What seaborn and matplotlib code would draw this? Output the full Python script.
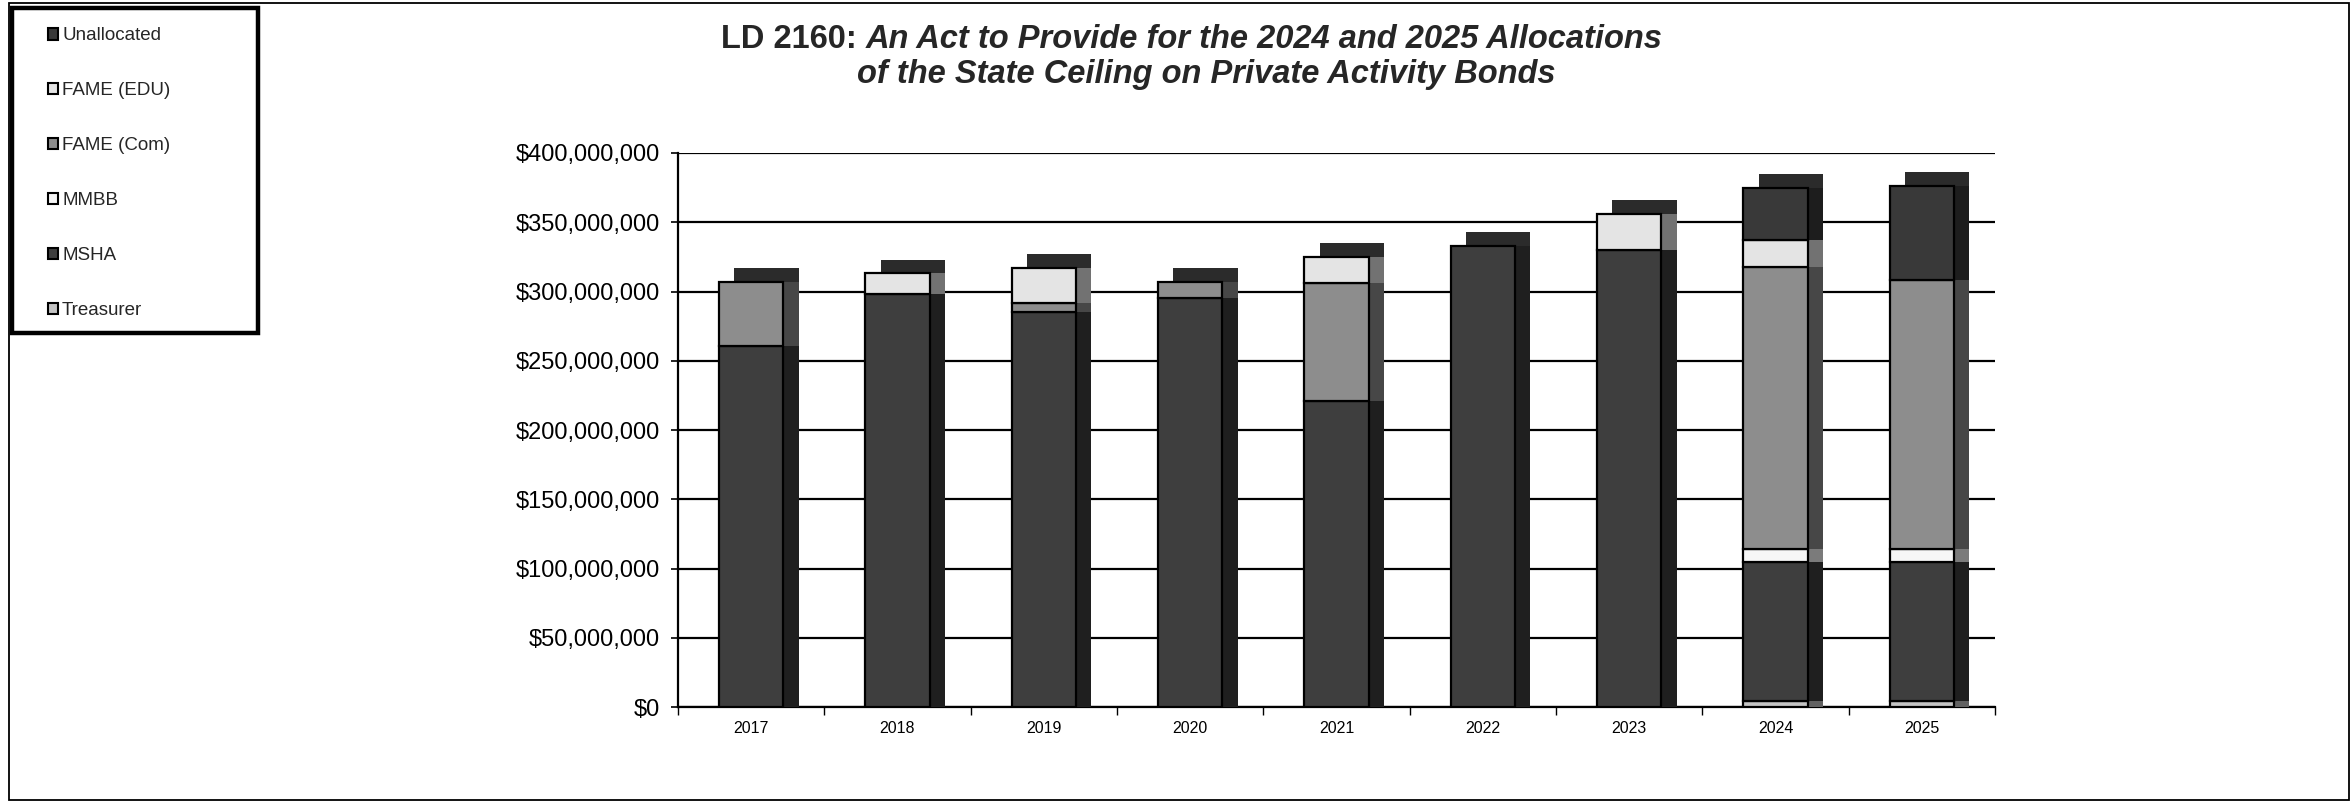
import matplotlib
matplotlib.use("Agg")
import matplotlib.pyplot as plt
import matplotlib.patheffects as pe
from matplotlib.patches import Patch, Rectangle
from matplotlib.ticker import FuncFormatter, MultipleLocator, FixedLocator
import seaborn as sns
import pandas as pd
import numpy as np

# ---- data (millions of dollars) ----
years = ["2017", "2018", "2019", "2020", "2021", "2022", "2023", "2024", "2025"]
treasurer = [0, 0, 0, 0, 0, 0, 0, 4, 4]
msha = [261, 298, 285, 295, 221, 333, 330, 101, 101]
mmbb = [0, 0, 0, 0, 0, 0, 0, 9, 9]
fame_com = [46, 0, 7, 12, 85, 0, 0, 204, 194]
fame_edu = [0, 15, 25, 0, 19, 0, 26, 19, 0]
unallocated = [0, 0, 0, 0, 0, 0, 0, 38, 68]

series_names = ["Treasurer", "MSHA", "MMBB", "FAME (Com)", "FAME (EDU)", "Unallocated"]
series_values = [treasurer, msha, mmbb, fame_com, fame_edu, unallocated]
series_colors = ["#c4c4c4", "#3e3e3e", "#f6f6f6", "#8d8d8d", "#e4e4e4", "#393939"]
legend_order = ["Unallocated", "FAME (EDU)", "FAME (Com)", "MMBB", "MSHA", "Treasurer"]

title_1a = "LD 2160:"
title_1b = "An Act to Provide for the 2024 and 2025 Allocations"
title_2 = "of the State Ceiling on Private Activity Bonds"

sns.set_theme(style="white")
plt.rcParams['font.family'] = ['Liberation Sans', 'DejaVu Sans']

W, H = 2352, 806
fig = plt.figure(figsize=(W / 100, H / 100), dpi=100)
ax = fig.add_axes([678 / W, (H - 707) / H, (1995 - 678) / W, (707 - 153) / H])

bottom = np.zeros(len(years))
for name, vals, col in zip(series_names, series_values, series_colors):
    v = np.array(vals, dtype=float) * 1e6
    df = pd.DataFrame({"year": years, "value": v})
    sns.barplot(data=df, x="year", y="value", order=years, color=col,
                saturation=1, errorbar=None, width=0.44, bottom=bottom,
                edgecolor="black", linewidth=1.6, ax=ax, zorder=3)
    bottom = bottom + v

# pseudo-3D: side faces (darker shade of each segment) and a dark top face
side = pe.SimplePatchShadow(offset=(11, 0), shadow_rgbFace=None, alpha=1.0, rho=0.5)
top = pe.SimplePatchShadow(offset=(11, 10), shadow_rgbFace="#2b2b2b", alpha=1.0)
visible = [p for p in ax.patches if p.get_height() > 0]
for p in ax.patches:
    if p.get_height() <= 0:
        p.set_visible(False)
tops = {}
for p in visible:
    key = round(p.get_x(), 3)
    if key not in tops or p.get_y() + p.get_height() > tops[key].get_y() + tops[key].get_height():
        tops[key] = p
top_set = set(id(p) for p in tops.values())
for p in visible:
    if id(p) in top_set:
        p.set_path_effects([top, side, pe.Normal()])
    else:
        p.set_path_effects([side, pe.Normal()])

ax.set_xlim(-0.5, len(years) - 0.5)
ax.set_ylim(0, 400e6)
ax.yaxis.set_major_locator(MultipleLocator(50e6))
ax.yaxis.set_major_formatter(FuncFormatter(lambda v, _: f"${v:,.0f}"))
ax.set_xlabel("")
ax.set_ylabel("")
ax.yaxis.grid(True, color="black", linewidth=1.6)
ax.xaxis.grid(False)
ax.set_axisbelow(True)
for s in ["top", "right"]:
    ax.spines[s].set_visible(False)
for s in ["left", "bottom"]:
    ax.spines[s].set_color("black")
    ax.spines[s].set_linewidth(1.6)

ax.tick_params(axis="y", which="major", left=True, length=5, width=1.2, color="black",
               pad=8, labelsize=17, labelcolor="black")
ax.tick_params(axis="x", which="major", bottom=False, pad=4, labelsize=11.5, labelcolor="black")
ax.xaxis.set_minor_locator(FixedLocator(np.arange(-0.5, len(years), 1.0)))
ax.tick_params(axis="x", which="minor", bottom=True, length=6, width=1.0, color="black")

# legend
handles = []
for nm in legend_order:
    i = series_names.index(nm)
    handles.append(Patch(facecolor=series_colors[i], edgecolor="black", linewidth=1.5, label=nm))
fig.legend(handles=handles, loc="upper left", bbox_to_anchor=(48 / W, 1 - 27.5 / H),
           frameon=False, fontsize=13.5, borderpad=0, borderaxespad=0,
           handlelength=0.55, handleheight=0.55, handletextpad=0.2, labelspacing=2.02)
fig.add_artist(Rectangle((12 / W, 1 - 333 / H), (258 - 12) / W, (333 - 8) / H,
                         transform=fig.transFigure, fill=False, edgecolor="black", linewidth=3.2))
# outer frame
fig.add_artist(Rectangle((9 / W, 1 - 800 / H), (2349 - 9) / W, (800 - 3) / H,
                         transform=fig.transFigure, fill=False, edgecolor="black", linewidth=1.3))

# title
fam = ['Liberation Sans Narrow', 'Liberation Sans', 'DejaVu Sans']
fs = 23.5
fig.canvas.draw()
r = fig.canvas.get_renderer()
t1 = fig.text(0, 1 - 39 / H, title_1a, fontsize=fs, fontweight="bold", family=fam, va="center")
t2 = fig.text(0, 1 - 39 / H, title_1b, fontsize=fs, fontweight="bold", style="italic",
              family=fam, va="center")
w1 = t1.get_window_extent(r).width
w2 = t2.get_window_extent(r).width
gap = 0.28 * fs * 100 / 72
x0 = 1192 - (w1 + gap + w2) / 2
t1.set_x(x0 / W)
t2.set_x((x0 + w1 + gap) / W)
fig.text(1206 / W, 1 - 75 / H, title_2, fontsize=fs, fontweight="bold", style="italic",
         family=fam, va="center", ha="center")

fig.savefig("out.png", dpi=100)
